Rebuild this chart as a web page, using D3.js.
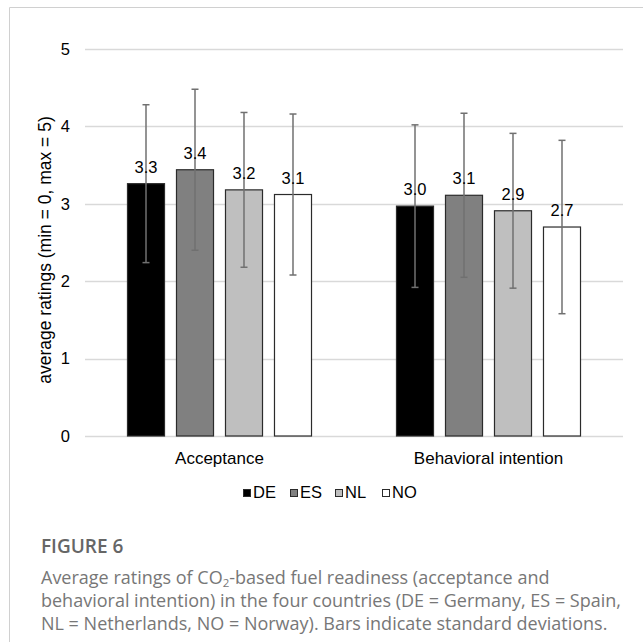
<!DOCTYPE html>
<html>
<head>
<meta charset="utf-8">
<script src="https://cdn.jsdelivr.net/npm/d3@7"></script>
<style>
    body { margin: 0; background: #fff; }
    .chart text { font-family: "Liberation Sans", Arial, sans-serif; fill: #000; }
    .caption text { font-family: "Open Sans", sans-serif; }
</style>
</head>
<body>
<div id="barChart"></div>
<script>
// Data
const categories = ['Acceptance', 'Behavioral intention'];
const countries = ['DE', 'ES', 'NL', 'NO'];
const acceptanceMeans = [3.26, 3.44, 3.18, 3.12];
const acceptanceSD = [1.02, 1.04, 1.00, 1.04];
const intentionMeans = [2.97, 3.11, 2.91, 2.70];
const intentionSD = [1.05, 1.06, 1.00, 1.12];
const yTicks = [0, 1, 2, 3, 4, 5];
const countryColors = ['#000000', '#808080', '#bfbfbf', '#ffffff'];

const captionTitle = 'FIGURE 6';
const captionLines = [
    ['Average ratings of CO', '2', '-based fuel readiness (acceptance and'],
    ['behavioral intention) in the four countries (DE = Germany, ES = Spain,'],
    ['NL = Netherlands, NO = Norway). Bars indicate standard deviations.']
];

// Build rows from the arrays
const means = [acceptanceMeans, intentionMeans];
const sds = [acceptanceSD, intentionSD];
const rows = [];
categories.forEach((cat, i) => {
    countries.forEach((c, j) => {
        rows.push({ category: cat, country: c, mean: means[i][j], sd: sds[i][j] });
    });
});

const width = 643, height = 642;
const svg = d3.select('#barChart').append('svg')
    .attr('width', width)
    .attr('height', height);

// light frame around the figure
svg.append('path')
    .attr('d', `M9.5,${height} L9.5,7.5 L${width},7.5`)
    .attr('fill', 'none')
    .attr('stroke', '#d0d0d0')
    .attr('stroke-width', 1);

const chart = svg.append('g').attr('class', 'chart');

const x0 = d3.scaleBand()
    .domain(categories)
    .range([85, 623]);

const x1 = d3.scaleBand()
    .domain(countries)
    .range([0, x0.bandwidth()])
    .paddingInner(0.224)
    .paddingOuter(0.857);

const y = d3.scaleLinear()
    .domain([0, 5])
    .range([436, 49]);

const color = d3.scaleOrdinal().domain(countries).range(countryColors);

// gridlines
chart.append('g')
    .selectAll('line')
    .data(yTicks)
    .join('line')
    .attr('x1', 85)
    .attr('x2', 623)
    .attr('y1', d => Math.round(y(d)) + 0.5)
    .attr('y2', d => Math.round(y(d)) + 0.5)
    .attr('stroke', '#d9d9d9')
    .attr('stroke-width', 1.5);

// y axis tick labels
const yAxis = chart.append('g')
    .attr('transform', 'translate(85,0)')
    .call(d3.axisLeft(y).tickValues(yTicks).tickSize(0).tickPadding(15).tickFormat(d3.format('d')));
yAxis.select('.domain').remove();
yAxis.selectAll('text')
    .style('font-size', '16.5px')
    .attr('fill', '#000');

// y axis title
chart.append('text')
    .attr('transform', 'translate(51,250) rotate(-90)')
    .attr('text-anchor', 'middle')
    .style('font-size', '17.5px')
    .text('average ratings (min = 0, max = 5)');

// x axis labels
const xAxis = chart.append('g')
    .attr('transform', 'translate(0,436)')
    .call(d3.axisBottom(x0).tickSize(0).tickPadding(16));
xAxis.select('.domain').remove();
xAxis.selectAll('text')
    .style('font-size', '17px')
    .attr('fill', '#000');

// bars
const groups = chart.append('g')
    .selectAll('g')
    .data(rows)
    .join('g')
    .attr('transform', d => `translate(${x0(d.category)},0)`);

groups.append('rect')
    .attr('x', d => x1(d.country) + 0.5)
    .attr('y', d => y(d.mean))
    .attr('width', x1.bandwidth() - 1)
    .attr('height', d => y(0) - y(d.mean))
    .attr('fill', d => color(d.country))
    .attr('stroke', '#2b2b2b')
    .attr('stroke-width', 1.2);

// error bars
const cx = d => x1(d.country) + x1.bandwidth() / 2;
groups.append('line')
    .attr('x1', cx).attr('x2', cx)
    .attr('y1', d => y(d.mean + d.sd))
    .attr('y2', d => y(d.mean - d.sd))
    .attr('stroke', '#707070')
    .attr('stroke-width', 1.5);
groups.selectAll('.cap')
    .data(d => [d.mean + d.sd, d.mean - d.sd].map(v => ({ v, d })))
    .join('line')
    .attr('class', 'cap')
    .attr('x1', e => cx(e.d) - 3.5)
    .attr('x2', e => cx(e.d) + 3.5)
    .attr('y1', e => y(e.v))
    .attr('y2', e => y(e.v))
    .attr('stroke', '#707070')
    .attr('stroke-width', 1.5);

// value labels
groups.append('text')
    .attr('x', cx)
    .attr('y', d => y(d.mean) - 11)
    .attr('text-anchor', 'middle')
    .style('font-size', '16.5px')
    .text(d => d3.format('.1f')(d.mean));

// legend
const legendX = [243, 290, 335, 382];
const legend = chart.append('g')
    .selectAll('g')
    .data(countries)
    .join('g')
    .attr('transform', (d, i) => `translate(${legendX[i]},489)`);
legend.append('rect')
    .attr('x', 0.5).attr('y', 0.5)
    .attr('width', 7).attr('height', 7)
    .attr('fill', d => color(d))
    .attr('stroke', '#2b2b2b')
    .attr('stroke-width', 1);
legend.append('text')
    .attr('x', 10)
    .attr('y', 8.5)
    .style('font-size', '16.5px')
    .text(d => d);

// caption
const caption = svg.append('g').attr('class', 'caption');
caption.append('text')
    .attr('x', 41)
    .attr('y', 553)
    .attr('fill', '#666')
    .style('font-size', '19px')
    .style('font-weight', 600)
    .text(captionTitle);

captionLines.forEach((parts, i) => {
    const t = caption.append('text')
        .attr('x', 41)
        .attr('y', 584 + i * 23)
        .attr('fill', '#777')
        .style('font-size', '18px');
    if (parts.length === 1) {
        t.text(parts[0]);
    } else {
        t.append('tspan').text(parts[0]);
        t.append('tspan').attr('dy', 3).style('font-size', '11.5px').text(parts[1]);
        t.append('tspan').attr('dy', -3).text(parts[2]);
    }
});
</script>
</body>
</html>
